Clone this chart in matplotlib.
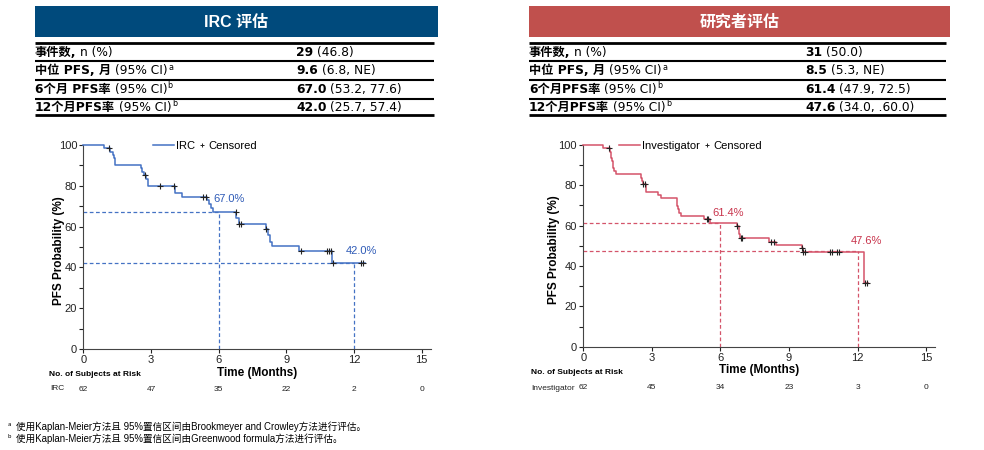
import matplotlib
matplotlib.use('Agg')
import numpy as np
import matplotlib.pyplot as plt
from matplotlib.lines import Line2D
from matplotlib.patches import Rectangle

plt.rcParams['font.family'] = ['Liberation Sans', 'Noto Sans CJK SC', 'DejaVu Sans']

# 数据: IRC 评估的 KM 曲线 (事件时间, 生存率%)
irc_t = [0, 0.92, 1.20, 1.30, 1.36, 1.42, 2.55, 2.62, 2.68, 2.78, 2.85, 4.06, 4.36,
         5.47, 5.55, 5.65, 5.73, 6.78, 6.90, 8.08, 8.20, 8.28, 8.38, 9.58, 11.04]
irc_s = [100, 98.4, 96.8, 95.2, 93.5, 90.2, 88.5, 86.9, 85.2, 83.5, 80.1, 76.6, 74.7,
         73.0, 71.0, 69.0, 67.0, 64.0, 61.1, 59.0, 56.0, 52.5, 50.3, 48.0, 42.0]
irc_end = 12.49
irc_cens = [1.15, 2.72, 3.40, 4.00, 5.32, 5.42, 6.75, 6.92, 6.97, 8.12, 9.65,
            10.82, 10.90, 10.98, 11.06, 12.30, 12.42]

# 研究者评估
inv_t = [0, 0.88, 1.17, 1.21, 1.25, 1.28, 1.35, 1.43, 2.52, 2.57, 2.60, 2.74, 3.28, 3.39,
         4.09, 4.12, 4.15, 4.20, 4.28, 5.30, 5.55, 6.71, 6.80, 6.86, 8.14, 8.43, 9.56, 9.60, 12.30]
inv_s = [100, 98.4, 96.7, 93.5, 91.9, 88.7, 87.1, 85.5, 83.8, 82.1, 80.5, 76.9, 75.2, 73.5,
         71.5, 69.8, 68.1, 66.4, 64.7, 63.1, 61.4, 59.7, 56.0, 53.7, 52.1, 50.4, 48.7, 47.1, 31.4]
inv_end = 12.45
inv_cens = [1.14, 2.63, 2.70, 5.40, 5.47, 6.74, 6.88, 6.96, 8.22, 8.33, 9.56, 9.63, 9.72,
            10.80, 10.89, 11.09, 11.19, 12.33, 12.43]

irc_marks = [6, 12]
irc_rates = [67.0, 42.0]
inv_marks = [6, 12]
inv_rates = [61.4, 47.6]

risk_times = [0, 3, 6, 9, 12, 15]
irc_risk = [62, 47, 35, 22, 2, 0]
inv_risk = [62, 45, 34, 23, 3, 0]

# 表格内容
row_labels = [
    [("事件数,", True), ("n (%)", False)],
    [("中位 PFS, 月", True), ("(95% CI)", False), ("a", "sup")],
    [("6个月 PFS率", True), ("(95% CI)", False), ("b", "sup")],
    [("12个月PFS率", True), ("(95% CI)", False), ("b", "sup")],
]
row_labels_r = [
    [("事件数,", True), ("n (%)", False)],
    [("中位 PFS, 月", True), ("(95% CI)", False), ("a", "sup")],
    [("6个月PFS率", True), ("(95% CI)", False), ("b", "sup")],
    [("12个月PFS率", True), ("(95% CI)", False), ("b", "sup")],
]
irc_bold = ["29", "9.6", "67.0", "42.0"]
irc_ci = ["(46.8)", "(6.8, NE)", "(53.2, 77.6)", "(25.7, 57.4)"]
inv_bold = ["31", "8.5", "61.4", "47.6"]
inv_ci = ["(50.0)", "(5.3, NE)", "(47.9, 72.5)", "(34.0, .60.0)"]

BLUE = '#4472C4'
BLUE_TXT = '#2F5BB7'
RED = '#D4546A'
RED_TXT = '#C8334B'

fig = plt.figure(figsize=(9.84, 4.5), dpi=100)
bg = fig.add_axes([0, 0, 1, 1])
bg.set_xlim(0, 984)
bg.set_ylim(450, 0)
bg.axis('off')
renderer = fig.canvas.get_renderer()


def km(t, s, end):
    return np.array(t + [end]), np.array(s + [s[-1]])


def surv_at(t, s, x):
    idx = np.searchsorted(t, x, side='right') - 1
    return np.array(s)[idx]


def draw_km(rect, t, s, end, cens, color, txtcolor, marks, rates, name, risk, label_pos,
            leg_x, ylab_x):
    ax = fig.add_axes(rect)
    xs, ys = km(t, s, end)
    ax.step(xs, ys, where='post', color=color, lw=1.1, clip_on=False, zorder=3)
    ax.plot(cens, surv_at(t, s, cens), '+', color='#222222', ms=4, mew=0.8, zorder=4, clip_on=False)
    for m, r, (lx, ly) in zip(marks, rates, label_pos):
        ax.plot([0, m], [r, r], ls=(0, (3, 2)), color=color, lw=0.9)
        ax.plot([m, m], [0, r], ls=(0, (3, 2)), color=color, lw=0.9)
        ax.text(lx, ly, f'{r:.1f}%', color=txtcolor, fontsize=8, ha='center', va='center')
    ax.set_xlim(0, 15.4)
    ax.set_ylim(0, 100)
    ax.set_xticks(risk_times)
    ax.set_yticks([0, 20, 40, 60, 80, 100])
    ax.set_yticks([10, 30, 50, 70, 90], minor=True)
    ax.tick_params(which='both', direction='out', length=3, width=0.8, labelsize=8,
                   colors='#222222', pad=1.5)
    for sp in ['top', 'right']:
        ax.spines[sp].set_visible(False)
    for sp in ['left', 'bottom']:
        ax.spines[sp].set_color('#444444')
    ax.set_xlabel('Time (Months)', fontsize=8.5, fontweight='bold', labelpad=1)
    ax.set_ylabel('PFS Probability (%)', fontsize=8.5, fontweight='bold')
    ax.yaxis.set_label_coords(ylab_x, 0.48)
    leg1 = ax.legend([Line2D([], [], color=color, lw=1.1)], [name], frameon=False, fontsize=8,
                     loc='upper left', bbox_to_anchor=(leg_x, 1.02), handlelength=1.9,
                     handletextpad=0.2, borderaxespad=0, borderpad=0)
    ax.add_artist(leg1)
    fig.canvas.draw()
    bb = leg1.get_window_extent(renderer).transformed(ax.transAxes.inverted())
    ax.legend([Line2D([], [], color='#222222', marker='+', ls='none', ms=3, mew=0.7)], ['Censored'],
              frameon=False, fontsize=8, loc='upper left', bbox_to_anchor=(bb.x1 + 0.01, 1.02),
              handlelength=0.6, handletextpad=0.3, borderaxespad=0, borderpad=0)
    tr = ax.get_xaxis_transform()
    for x, n in zip(risk_times, risk):
        ax.text(x, -0.2, str(n), transform=tr, fontsize=6, ha='center', va='center', color='#222222')
    return ax


ax1 = draw_km([0.0847, 0.2244, 0.353, 0.4533], irc_t, irc_s, irc_end, irc_cens, BLUE, BLUE_TXT,
              irc_marks, irc_rates, 'IRC', irc_risk, [(6.45, 73.4), (12.35, 48.2)], 0.2, -0.053)
ax2 = draw_km([0.5928, 0.2296, 0.3576, 0.4482], inv_t, inv_s, inv_end, inv_cens, RED, RED_TXT,
              inv_marks, inv_rates, 'Investigator', inv_risk, [(6.35, 66.4), (12.4, 52.4)], 0.1, -0.067)

bg.text(49, 375, 'No. of Subjects at Risk', fontsize=6, fontweight='bold', va='center')
bg.text(50, 389, 'IRC', fontsize=6, va='center', color='#222222')
bg.text(531, 373, 'No. of Subjects at Risk', fontsize=6, fontweight='bold', va='center')
bg.text(531, 389, 'Investigator', fontsize=6, va='center', color='#222222')
bg.set_zorder(5)
bg.patch.set_visible(False)

TFONT = ['DejaVu Sans', 'Noto Sans CJK SC']


def runs(x, y, parts, size=8.8):
    for i, (txt, style) in enumerate(parts):
        if style == 'sup':
            t = bg.text(x + 0.5, y - 4.5, txt, fontsize=5.8, family=TFONT, va='baseline')
        else:
            if i > 0:
                x += 4
            t = bg.text(x, y, txt, fontsize=size, family=TFONT, va='baseline',
                        fontweight='bold' if style else 'normal')
        x += t.get_window_extent(renderer).width


def table(x0, x1, col2, title, hcolor, labels, bolds, cis):
    bg.add_patch(Rectangle((x0, 6), x1 - x0, 31, color=hcolor, lw=0))
    bg.text((x0 + x1) / 2, 22, title, color='white', fontsize=11.5, fontweight='bold',
            family=['Liberation Sans', 'Noto Sans CJK SC'], ha='center', va='center')
    for yl, lw in zip([43, 61, 80, 99, 115], [2, 1.5, 1.5, 1.5, 2]):
        bg.plot([x0, x1 - 4], [yl, yl], color='black', lw=lw, solid_capstyle='butt')
    for i, yb in enumerate([56, 74, 93, 111]):
        runs(x0, yb, labels[i])
        runs(col2, yb, [(bolds[i], True), (cis[i], False)])


table(35, 438, 296, 'IRC 评估', '#004A7C', row_labels, irc_bold, irc_ci)
table(529, 950, 805, '研究者评估', '#C0504D', row_labels_r, inv_bold, inv_ci)

fn = ['使用Kaplan-Meier方法且 95%置信区间由Brookmeyer and Crowley方法进行评估。',
      '使用Kaplan-Meier方法且 95%置信区间由Greenwood formula方法进行评估。']
for sup, txt, y in zip(['a', 'b'], fn, [427, 439]):
    bg.text(8, y - 2, sup, fontsize=4, va='center', family=TFONT)
    bg.text(16, y, txt, fontsize=6.9, va='center', family=['Liberation Sans', 'Noto Sans CJK SC'])

fig.savefig('out.png', dpi=100)
